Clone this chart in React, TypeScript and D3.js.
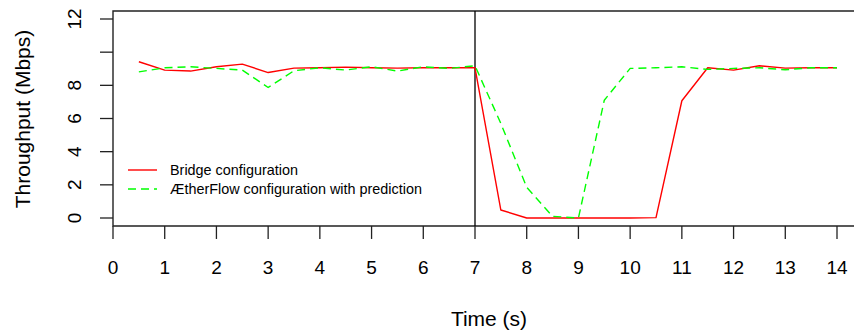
import React from "react";
import * as d3 from "d3";

const times = [0.5, 1, 1.5, 2, 2.5, 3, 3.5, 4, 4.5, 5, 5.5, 6, 6.5, 7, 7.5, 8, 8.5, 9, 9.5, 10, 10.5, 11, 11.5, 12, 12.5, 13, 13.5, 14];
const bridge = [9.42, 8.92, 8.86, 9.12, 9.28, 8.77, 9.04, 9.06, 9.1, 9.06, 9.04, 9.06, 9.06, 9.06, 0.48, 0, 0, 0, 0, 0, 0.02, 7.07, 9.06, 8.92, 9.18, 9.04, 9.06, 9.06];
const aether = [8.81, 9.06, 9.12, 9.02, 8.92, 7.87, 8.88, 9.06, 8.92, 9.12, 8.86, 9.12, 9.02, 9.18, 5.7, 1.85, 0.1, 0, 7.1, 9.02, 9.06, 9.12, 8.96, 9.02, 9.06, 8.94, 9.06, 9.06];
const xTicks = [0, 1, 2, 3, 4, 5, 6, 7, 8, 9, 10, 11, 12, 13, 14];
const yTicks = [0, 2, 4, 6, 8, 10, 12];
const yTickLabels = ["0", "2", "4", "6", "8", "", "12"];
const seriesNames = ["Bridge configuration", "\u00C6therFlow configuration with prediction"];
const eventTime = 7;

const W = 854;
const H = 330;
const FONT = "'Liberation Sans', Arial, Helvetica, sans-serif";

export default function App() {
  const x = d3.scaleLinear().domain([0, 14]).range([113, 837]);
  const y = d3.scaleLinear().domain([0, 12]).range([218, 19]);
  const boxTop = y(12.48);
  const boxBottom = y(-0.48);
  const boxLeft = x(0);
  const boxRight = x(14.6);

  const line = d3
    .line<number>()
    .x((_, i) => x(times[i]))
    .y((d) => y(d));

  const series = [
    { name: seriesNames[0], values: bridge, color: "#ff0000", dash: undefined },
    { name: seriesNames[1], values: aether, color: "#00ff00", dash: "8,5" },
  ];

  return (
    <svg
      width={W}
      height={H}
      style={{ position: "absolute", left: 0, top: 0, background: "#fff" }}
      fontFamily={FONT}
    >
      {/* plot frame: open on the right */}
      <path
        d={`M${boxRight},${boxTop}H${boxLeft}V${boxBottom}H${boxRight}`}
        fill="none"
        stroke="#222"
        strokeWidth={1.4}
      />

      {/* y axis ticks */}
      {yTicks.map((t, i) => (
        <g key={"y" + t}>
          <line x1={boxLeft - 13} x2={boxLeft} y1={y(t)} y2={y(t)} stroke="#222" strokeWidth={1.3} />
          <text
            transform={`translate(${boxLeft - 32},${y(t)}) rotate(-90)`}
            textAnchor="middle"
            fontSize={19}
            fill="#000"
          >
            {yTickLabels[i]}
          </text>
        </g>
      ))}

      {/* x axis ticks */}
      {xTicks.map((t) => (
        <g key={"x" + t}>
          <line x1={x(t)} x2={x(t)} y1={boxBottom} y2={boxBottom + 13} stroke="#222" strokeWidth={1.3} />
          <text x={x(t)} y={274} textAnchor="middle" fontSize={19} fill="#000">
            {t}
          </text>
        </g>
      ))}

      {/* axis titles */}
      <text x={489} y={326} textAnchor="middle" fontSize={21} fill="#000">
        Time (s)
      </text>
      <text transform="translate(30,119) rotate(-90)" textAnchor="middle" fontSize={21} fill="#000">
        Throughput (Mbps)
      </text>

      {/* event marker */}
      <line x1={x(eventTime)} x2={x(eventTime)} y1={boxTop} y2={boxBottom} stroke="#000" strokeWidth={1.3} />

      {series.map((s) => (
        <path
          key={s.name}
          d={line(s.values) || ""}
          fill="none"
          stroke={s.color}
          strokeWidth={1.4}
          strokeDasharray={s.dash}
          strokeLinejoin="round"
        />
      ))}

      {/* legend */}
      {series.map((s, i) => (
        <g key={"lg" + i} transform={`translate(0,${170 + i * 19})`}>
          <line x1={128} x2={157} y1={0} y2={0} stroke={s.color} strokeWidth={1.4} strokeDasharray={s.dash} />
          <text x={170} y={5} fontSize={14.4} fill="#000">
            {s.name}
          </text>
        </g>
      ))}
    </svg>
  );
}
